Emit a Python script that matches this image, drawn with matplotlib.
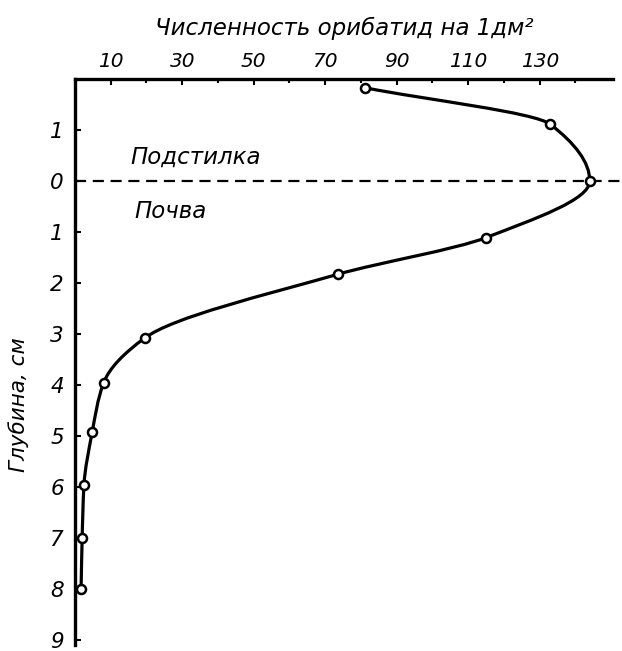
import numpy as np
import matplotlib
matplotlib.use('Agg')
import matplotlib.pyplot as plt
from matplotlib.path import Path
from matplotlib.patches import PathPatch

# oribatid numbers per 1 dm2 vs depth (cm); negative depth = litter layer
depth = [-1.83, -1.11, 0.0, 1.11, 1.83, 3.08, 3.96, 4.93, 5.97, 7.0, 8.0]
count = [81, 133, 144, 115, 73.5, 19.5, 8, 4.8, 2.5, 2.0, 1.7]

x_major = [10, 30, 50, 70, 90, 110, 130]
x_minor = [20, 40, 60, 80, 100, 120, 140]
y_ticks = [-1, 0, 1, 2, 3, 4, 5, 6, 7, 8, 9]
y_labels = ['1', '0', '1', '2', '3', '4', '5', '6', '7', '8', '9']


def smooth_path(xs, ys):
    '''Monotone cubic (x as a function of y) through the points,
    written as bezier segments so no overshoot at the peak'''
    x = np.asarray(xs, float)
    y = np.asarray(ys, float)
    h = np.diff(y)
    d = np.diff(x) / h
    m = np.zeros_like(x)
    m[0], m[-1] = d[0], d[-1]
    for i in range(1, len(x) - 1):
        if d[i - 1] * d[i] > 0:
            w1 = 2 * h[i] + h[i - 1]
            w2 = h[i] + 2 * h[i - 1]
            m[i] = (w1 + w2) / (w1 / d[i - 1] + w2 / d[i])
    verts = [(x[0], y[0])]
    codes = [Path.MOVETO]
    for i in range(len(x) - 1):
        t = h[i] / 3
        verts += [(x[i] + m[i] * t, y[i] + t),
                  (x[i + 1] - m[i + 1] * t, y[i + 1] - t),
                  (x[i + 1], y[i + 1])]
        codes += [Path.CURVE4] * 3
    return Path(verts, codes)


plt.rcParams['font.family'] = 'DejaVu Sans'
plt.rcParams['font.style'] = 'italic'

fig = plt.figure(figsize=(6.22, 6.51), dpi=100)
ax = fig.add_axes([75 / 622, 1 - 645 / 651, 538 / 622, (645 - 79) / 651])

ax.set_xlim(0, 150.5)
ax.set_ylim(9.1, -2.0)

ax.add_patch(PathPatch(smooth_path(count, depth), fill=False, lw=2.3, color='black',
                       capstyle='round', joinstyle='round'))
ax.plot(count, depth, 'o', ms=6.5, mfc='white', mec='black', mew=1.8, zorder=3)

# boundary between litter and soil
ax.plot([0, 154], [0, 0], '--', color='black', lw=1.6, dashes=(5, 3), clip_on=False)

ax.text(15.6, -0.47, 'Подстилка', fontsize=16.5, va='center', ha='left')
ax.text(16.5, 0.6, 'Почва', fontsize=16.5, va='center', ha='left')

for side in ['right', 'bottom']:
    ax.spines[side].set_visible(False)
ax.spines['left'].set_linewidth(2.4)
ax.spines['top'].set_linewidth(2.4)

ax.xaxis.tick_top()
ax.set_xticks(x_major)
ax.set_xticks(x_minor, minor=True)
ax.tick_params(axis='x', which='major', direction='in', length=4, width=1.5,
               labelsize=14.5, pad=6)
ax.tick_params(axis='x', which='minor', direction='in', length=3, width=1.5)
ax.set_yticks(y_ticks)
ax.set_yticklabels(y_labels)
ax.tick_params(axis='y', direction='in', length=4, width=1.5, labelsize=15.5, pad=8)

ax.xaxis.set_label_position('top')
ax.set_xlabel('Численность орибатид на 1дм²', fontsize=16.5, labelpad=12)
ax.set_ylabel('Глубина, см', fontsize=15.5)
ax.yaxis.set_label_coords(-0.085, 0.425)

fig.savefig('out.png', dpi=100)
